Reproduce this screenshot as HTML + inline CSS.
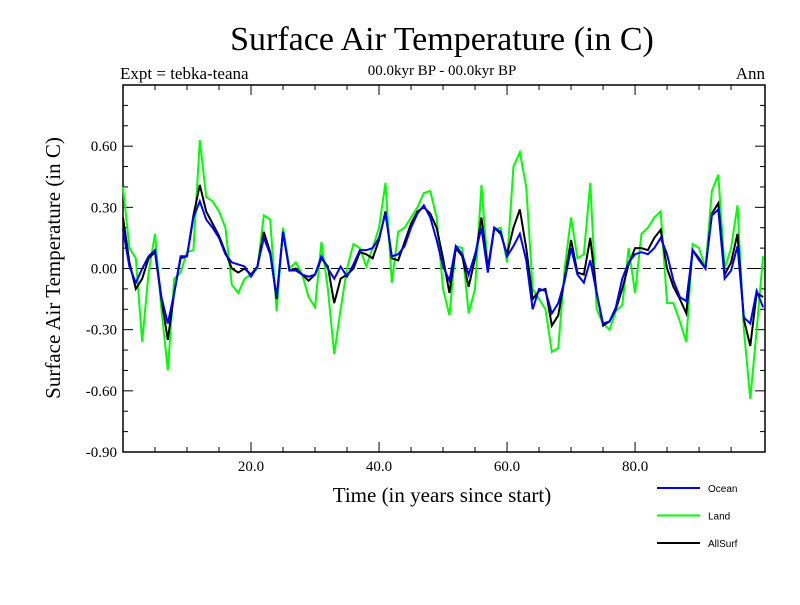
<!DOCTYPE html>
<html><head><meta charset="utf-8"><style>
body{margin:0;background:#fff}
svg text{font-family:"Liberation Serif",serif}
</style></head><body>
<svg id="c" width="800" height="600" xmlns="http://www.w3.org/2000/svg">
<text x="442" y="50" font-size="34" text-anchor="middle">Surface Air Temperature (in C)</text>
<text x="120" y="79" font-size="17">Expt = tebka-teana</text>
<text x="442" y="75" font-size="15" text-anchor="middle">00.0kyr BP - 00.0kyr BP</text>
<text x="765" y="79" font-size="17" text-anchor="end">Ann</text>
<text transform="translate(60,268) rotate(-90)" font-size="21" text-anchor="middle">Surface Air Temperature (in C)</text>
<text x="442" y="502" font-size="21" text-anchor="middle">Time (in years since start)</text>
<g id="axes"></g>
<g id="series"></g>
<g id="legend"></g>
</svg>
<script>
const years=[];for(let i=0;i<=100;i++)years.push(i);
const ocean=[0.19,0.01,-0.07,0.0,0.06,0.09,-0.14,-0.27,-0.12,0.06,0.06,0.25,0.33,0.24,0.20,0.15,0.07,0.03,0.02,0.01,-0.04,0.01,0.15,0.07,-0.14,0.18,-0.01,-0.01,-0.03,-0.04,-0.03,0.06,0.0,-0.05,0.01,-0.04,0.02,0.09,0.09,0.10,0.15,0.27,0.06,0.07,0.11,0.20,0.27,0.31,0.25,0.14,0.01,-0.06,0.11,0.07,-0.03,0.07,0.20,-0.02,0.20,0.18,0.06,0.11,0.17,0.04,-0.20,-0.10,-0.11,-0.22,-0.17,-0.06,0.10,-0.03,-0.07,0.04,-0.12,-0.27,-0.26,-0.19,-0.05,0.03,0.07,0.08,0.07,0.10,0.15,0.07,-0.06,-0.14,-0.16,0.09,0.04,0.0,0.26,0.29,-0.05,-0.01,0.11,-0.24,-0.27,-0.11,-0.19];
const land=[0.40,0.10,0.05,-0.36,-0.02,0.17,-0.20,-0.50,-0.05,-0.02,0.08,0.09,0.63,0.35,0.33,0.28,0.20,-0.08,-0.12,-0.05,-0.03,0.0,0.26,0.24,-0.21,0.20,0.0,0.03,-0.03,-0.14,-0.19,0.13,-0.10,-0.42,-0.20,0.0,0.12,0.10,0.01,0.10,0.20,0.42,-0.07,0.18,0.20,0.25,0.30,0.37,0.38,0.25,-0.10,-0.23,0.11,0.10,-0.22,-0.10,0.41,0.0,0.19,0.20,0.03,0.50,0.57,0.40,-0.10,-0.15,-0.20,-0.41,-0.39,0.0,0.25,0.05,0.07,0.42,-0.20,-0.27,-0.30,-0.21,-0.18,0.10,-0.12,0.17,0.20,0.25,0.28,-0.17,-0.17,-0.26,-0.36,0.12,0.10,0.0,0.38,0.46,0.0,0.10,0.31,-0.30,-0.64,-0.30,0.06];
const allsurf=[0.25,0.03,-0.10,-0.05,0.05,0.08,-0.15,-0.35,-0.12,0.05,0.06,0.26,0.41,0.28,0.22,0.16,0.08,0.0,-0.02,0.0,-0.03,0.01,0.18,0.08,-0.15,0.18,-0.01,0.0,-0.03,-0.06,-0.03,0.05,0.01,-0.17,-0.05,-0.03,0.0,0.08,0.07,0.05,0.14,0.28,0.05,0.04,0.13,0.22,0.28,0.30,0.27,0.20,0.05,-0.12,0.10,0.06,-0.09,0.05,0.25,0.0,0.20,0.17,0.07,0.20,0.29,0.10,-0.15,-0.11,-0.10,-0.28,-0.23,-0.05,0.14,-0.02,-0.03,0.15,-0.12,-0.28,-0.26,-0.20,-0.10,0.02,0.10,0.10,0.09,0.15,0.19,0.0,-0.09,-0.15,-0.22,0.09,0.05,0.0,0.27,0.32,-0.03,0.03,0.17,-0.25,-0.38,-0.12,-0.14];
const yTicks=[-0.90,-0.60,-0.30,0.00,0.30,0.60];
const xTicks=[20,40,60,80];
const seriesNames=["Ocean","Land","AllSurf"];
const seriesColors=["#0000ff","#00ff00","#000000"];
const L=123,R=765,T=85,B=452,x0=0,x1=100.3,y0=-0.9,y1=0.9;
const sx=v=>L+(v-x0)/(x1-x0)*(R-L);
const sy=v=>B-(v-y0)/(y1-y0)*(B-T);
const NS="http://www.w3.org/2000/svg";
function mk(t,a,p){const e=document.createElementNS(NS,t);for(const k in a)e.setAttribute(k,a[k]);p.appendChild(e);return e;}
const ax=document.getElementById('axes');
let r=mk('rect',{x:L,y:T,width:R-L,height:B-T,fill:'none',stroke:'#000','stroke-width':1.5},ax);


for(let v=-0.9;v<=0.901;v+=0.1){const y=sy(v);const big=Math.abs(Math.round(v*10)%3)==0;const len=big?10:5;
 mk('line',{x1:L,x2:L+len,y1:y,y2:y,stroke:'#000'},ax);mk('line',{x1:R,x2:R-len,y1:y,y2:y,stroke:'#000'},ax);}
yTicks.forEach(v=>{const t=mk('text',{x:L-6,y:sy(v)+5,'font-size':15,'text-anchor':'end'},ax);t.textContent=v.toFixed(2);
 
 });
for(let v=5;v<100;v+=5){const x=sx(v);const len=v%20==0?10:5;mk('line',{x1:x,x2:x,y1:B,y2:B-len,stroke:'#000'},ax);mk('line',{x1:x,x2:x,y1:T,y2:T+len,stroke:'#000'},ax);}
xTicks.forEach(v=>{const t=mk('text',{x:sx(v),y:B+19,'font-size':15,'text-anchor':'middle'},ax);t.textContent=v.toFixed(1);
 
 });
const z=mk('line',{x1:L,x2:R,y1:sy(0),y2:sy(0),stroke:'#000','stroke-dasharray':'8,5'},ax);


const sg=document.getElementById('series');
[land,allsurf,ocean].forEach((d)=>{const i=d===ocean?0:d===land?1:2;
 const p=mk('polyline',{points:d.map((v,k)=>sx(years[k])+','+sy(v)).join(' '),fill:'none',stroke:seriesColors[i],'stroke-width':2},sg);
 
 });
const lg=document.getElementById('legend');
seriesNames.forEach((n,i)=>{const y=488+i*27.5;
 const g=mk('g',{},lg);
 
 
 mk('line',{x1:657,x2:700,y1:y,y2:y,stroke:seriesColors[i],'stroke-width':2},g);
 const t=mk('text',{x:708,y:y+4,'font-size':10,style:'font-family:"Liberation Sans",sans-serif'},g);t.textContent=n;});
</script>
</body></html>
